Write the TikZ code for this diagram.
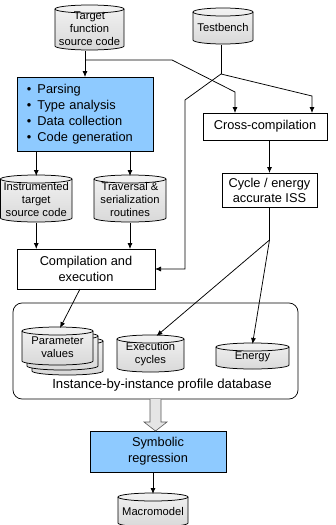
\documentclass[tikz,border=0pt]{standalone}
\usepackage{fontspec}
\setmainfont{Liberation Sans}
\usetikzlibrary{arrows.meta,calc}
\definecolor{blueone}{RGB}{142,202,255}
\newcommand\bxfont{\fontsize{12.8}{16.2}\selectfont}
\newcommand\cyfont{\fontsize{11.2}{13}\selectfont}
\newcommand\placebox[7]{\node[#6, minimum width={#4-#2}, minimum height={#5-#3}] (#1) at ({(#2+#4)/2},{-(#3+#5)/2}) {#7};}
\newcommand\cyl[6]{%
 \pgfmathsetmacro\cylrx{(#4-#2)/2}%
 \path[draw, top color=gray!10, middle color=white, bottom color=gray!30] (#2,{-(#3+4)}) -- (#2,{-(#5-4)}) arc[start angle=180,end angle=360,x radius=\cylrx pt,y radius=4pt] -- (#4,{-(#3+4)}) arc[start angle=0,end angle=180,x radius=\cylrx pt,y radius=4pt] -- cycle;
 \draw (#2,{-(#3+4)}) arc[start angle=180,end angle=360,x radius=\cylrx pt,y radius=4pt];
 \node[cyltext, minimum width={#4-#2}, minimum height={#5-#3}] (#1) at ({(#2+#4)/2},{-(#3+#5)/2-1}) {#6};}
\begin{document}
\begin{tikzpicture}[x=1pt,y=1pt,line width=0.75pt,
  arr/.style={-{Latex[length=6pt,width=5pt]}},
  proc/.style={draw, fill=white, inner sep=0pt, outer sep=0pt, align=center, font=\bxfont},
  cyltext/.style={inner sep=0pt, outer sep=0pt, align=center, font=\cyfont}]
\fill[white] (0,0) rectangle (336,-525);
\useasboundingbox (0,0) rectangle (336,-525);

% boxes
\placebox{par}{17}{77}{153}{151}{proc, fill=blueone, align=left, text width=116pt}{\textbullet\hspace{6pt}Parsing\\\textbullet\hspace{6pt}Type analysis\\\textbullet\hspace{6pt}Data collection\\\textbullet\hspace{6pt}Code generation}
\placebox{cross}{203}{113}{327}{140}{proc}{Cross-compilation}
\placebox{iss}{222}{173}{317}{207}{proc, font=\fontsize{12.8}{15}\selectfont}{Cycle / energy\\accurate ISS}
\placebox{comp}{17}{249}{155}{289}{proc}{Compilation and\\execution}
\placebox{db}{13}{303}{298}{399}{draw, rounded corners=9pt, inner sep=0pt, outer sep=0pt}{}
\node[font=\fontsize{13.2}{15}\selectfont] (dblabel) at (162,-385.5) {Instance-by-instance profile database};
\placebox{sym}{90}{431}{226}{472}{proc, fill=blueone}{Symbolic\\regression}

% cylinders
\cyl{tgt}{55}{5}{124}{50}{Target\\function\\source code}
\cyl{tb}{193}{8}{253}{44}{Testbench}
\cyl{inst}{0.5}{175}{72}{222}{Instrumented\\target\\source code}
\cyl{trav}{94}{175}{166}{222}{Traversal \&\\serialization\\routines}
\cyl{pvc}{32}{337}{103}{375}{}
\cyl{pvb}{27}{332}{98}{370}{}
\cyl{pv}{22}{327}{93}{365}{Parameter\\values}
\cyl{exec}{117}{335}{184}{372}{Execution\\cycles}
\cyl{en}{216}{343}{289}{369}{Energy}
\cyl{mm}{118}{493}{188}{527}{Macromodel}

% connectors
\coordinate (j1) at (85,-60);
\draw[arr] (tgt.south -| par.north) -- (par.north);
\coordinate (c1) at ($(cross.north west)+(32,0)$);
\draw[arr] (j1) -- (172,-60) -- (235,-92) -- (c1);
\coordinate (j2) at ($(tb.south)+(-2,-29)$);
\draw (tb.south -| j2) -- (j2);
\coordinate (c2) at ($(cross.north east)+(-15,0)$);
\draw[arr] (j2) -- (312,-96) -- (c2);
\draw[arr] (j2) -- (185,-100) |- (comp.east);
\draw[arr] (cross.south -| iss.north) -- (iss.north);
\coordinate (j3) at ($(iss.south)+(0,-33)$);
\draw (iss.south) -- (j3);
\draw[arr] (j3) -- ($(exec.north)+(6,0)$);
\draw[arr] (j3) -- (en.north);
\draw[arr] (par.south -| inst.north) -- (inst.north);
\draw[arr] (par.south -| trav.north) -- (trav.north);
\draw[arr] (inst.south) -- (inst.south |- comp.north);
\draw[arr] (trav.south) -- (trav.south |- comp.north);
\draw[arr] ($(comp.south west)+(63,0)$) -- ($(pv.north)+(2.5,0)$);
\draw[gray!70!black, fill=gray!20, line width=0.6pt] ($(db.south)+(-5.5,0)$) -- ($(db.south)+(-5.5,-23)$) -- ($(db.south)+(-11.5,-23)$) -- (sym.north -| db.south) -- ($(db.south)+(11.5,-23)$) -- ($(db.south)+(5.5,-23)$) -- ($(db.south)+(5.5,0)$);
\draw[arr] (sym.south -| mm.north) -- (mm.north);
\end{tikzpicture}
\end{document}
